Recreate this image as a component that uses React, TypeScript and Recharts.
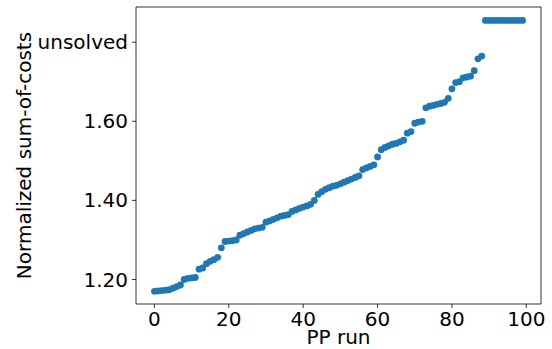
import React from 'react';
import { ScatterChart, Scatter, XAxis, YAxis, ReferenceArea } from 'recharts';

// normalized sum-of-costs for the solved runs 0..88
const solvedCosts = [
  1.170, 1.171, 1.172, 1.173, 1.174, 1.178, 1.182, 1.186, 1.200, 1.203,
  1.204, 1.205, 1.226, 1.229, 1.240, 1.246, 1.250, 1.256, 1.280, 1.296,
  1.297, 1.298, 1.300, 1.312, 1.316, 1.320, 1.324, 1.328, 1.330, 1.332,
  1.345, 1.348, 1.352, 1.356, 1.360, 1.362, 1.364, 1.372, 1.376, 1.380,
  1.383, 1.386, 1.390, 1.400, 1.415, 1.422, 1.428, 1.432, 1.436, 1.438,
  1.442, 1.446, 1.450, 1.454, 1.458, 1.462, 1.478, 1.482, 1.486, 1.490,
  1.510, 1.528, 1.534, 1.538, 1.542, 1.544, 1.548, 1.552, 1.570, 1.574,
  1.595, 1.598, 1.600, 1.634, 1.638, 1.640, 1.643, 1.645, 1.648, 1.658,
  1.682, 1.698, 1.700, 1.710, 1.712, 1.714, 1.728, 1.758, 1.765,
];

// runs that did not solve, drawn on the "unsolved" row
const unsolvedRuns = [89, 90, 91, 92, 93, 94, 95, 96, 97, 98, 99];
const unsolvedLevel = 1.855;

const xTicks = [0, 20, 40, 60, 80, 100];
const yTicks = [1.2, 1.4, 1.6, 1.8];
const yTickLabels = ['1.20', '1.40', '1.60', 'unsolved'];

const xDomain: [number, number] = [-4.95, 103.95];
const yDomain: [number, number] = [1.138, 1.889];

const points = [
  ...solvedCosts.map((cost, run) => ({ run, cost })),
  ...unsolvedRuns.map((run) => ({ run, cost: unsolvedLevel })),
];

const FONT = '"DejaVu Sans", sans-serif';
const tickStyle = { fontFamily: FONT, fontSize: 20, fill: '#000' };

function YLabel(props: any) {
  const vb = props.viewBox || { x: 0, y: 7, height: 297 };
  const x = vb.x + 30.5;
  const y = vb.y + vb.height / 2;
  return (
    <text
      x={x}
      y={y}
      transform={`rotate(-90, ${x}, ${y})`}
      textAnchor="middle"
      fontFamily={FONT}
      fontSize={20}
      fill="#000"
    >
      Normalized sum-of-costs
    </text>
  );
}

const Dot = (p: any) => <circle cx={p.cx} cy={p.cy} r={3.4} fill="#1f77b4" />;

export default function App() {
  return (
    <div style={{ position: 'absolute', left: 0, top: 0, background: '#fff' }}>
      <ScatterChart width={552} height={349} margin={{ top: 7, right: 11, bottom: 0, left: 0 }}>
        <XAxis
          type="number"
          dataKey="run"
          domain={xDomain}
          ticks={xTicks}
          allowDataOverflow
          height={45}
          axisLine={false}
          tickSize={4}
          tickMargin={4}
          tickLine={{ stroke: '#000', strokeWidth: 0.8 }}
          tick={tickStyle}
          label={{ value: 'PP run', position: 'insideBottom', offset: 5, style: tickStyle }}
        />
        <YAxis
          type="number"
          dataKey="cost"
          domain={yDomain}
          ticks={yTicks}
          allowDataOverflow
          width={136}
          axisLine={false}
          tickSize={4}
          tickMargin={4}
          tickLine={{ stroke: '#000', strokeWidth: 0.8 }}
          tick={tickStyle}
          tickFormatter={(v: number) => yTickLabels[yTicks.indexOf(v)] ?? v.toFixed(2)}
          label={<YLabel />}
        />
        <Scatter data={points} fill="#1f77b4" shape={Dot} isAnimationActive={false} />
        <ReferenceArea
          x1={xDomain[0]}
          x2={xDomain[1]}
          y1={yDomain[0]}
          y2={yDomain[1]}
          fill="none"
          fillOpacity={0}
          stroke="#000"
          strokeWidth={0.8}
          ifOverflow="visible"
        />
      </ScatterChart>
    </div>
  );
}
